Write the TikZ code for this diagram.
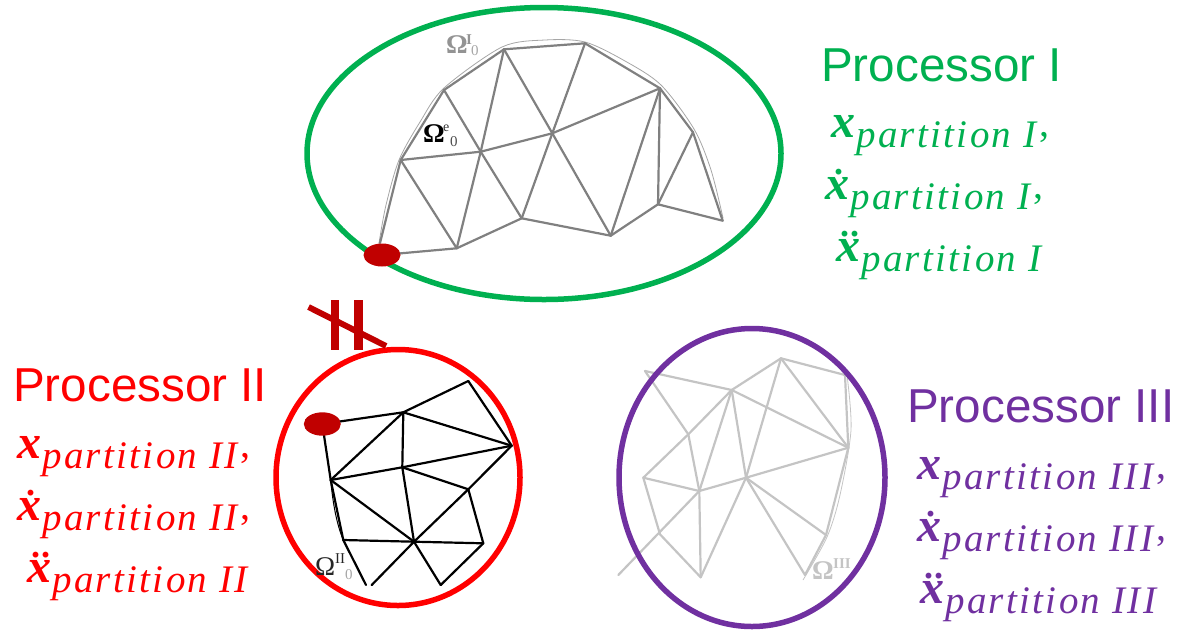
\documentclass[tikz,border=0pt]{standalone}
\usepackage{fontspec}
\setmainfont{Liberation Sans}
\newfontfamily\subf[LetterSpace=6]{Liberation Serif}
\newfontfamily\xf{Liberation Serif}
\definecolor{cgreen}{HTML}{00B050}
\definecolor{cred}{HTML}{FF0000}
\definecolor{cpurple}{HTML}{7030A0}
\definecolor{cdark}{HTML}{C00000}
\definecolor{cmeshI}{HTML}{808080}
\definecolor{cmeshIII}{HTML}{C4C4C4}
\newcommand{\bx}{{\xf\fontsize{48}{48}\selectfont\bfseries\itshape x}}
\newcommand{\bxd}{\leavevmode\rlap{\kern9pt\raisebox{25pt}{\xf\fontsize{36}{36}\selectfont\bfseries .}}\bx}
\newcommand{\bxdd}{\leavevmode\rlap{\kern4pt\raisebox{25pt}{\xf\fontsize{36}{36}\selectfont\bfseries .\kern1pt.}}\bx}
\newcommand{\subt}[1]{\kern1pt\raisebox{-10pt}{\subf\fontsize{39}{39}\selectfont\itshape partition #1}}
\newcommand{\cma}{\kern3pt\raisebox{1pt}{\xf\fontsize{40}{40}\selectfont ,}}
\tikzset{
  ell/.style={line width=5.5pt},
  proc/.style={inner sep=0pt,anchor=base west,font=\fontsize{47.6}{47.6}\selectfont},
  eqn/.style={inner sep=0pt,anchor=base west},
  meshline/.style={line width=2.2pt,line cap=round,line join=round},
  hash/.style={cdark,line width=8.5pt},
  omegabig/.style={inner sep=0pt,anchor=base west,font=\xf\fontsize{27}{27}\selectfont\bfseries},
  omegathin/.style={inner sep=0pt,anchor=base west,font=\xf\fontsize{27}{27}\selectfont},
  omegasup/.style={inner sep=0pt,anchor=base west,font=\xf\fontsize{15}{15}\selectfont\bfseries},
  omegasub/.style={inner sep=0pt,anchor=base west,font=\xf\fontsize{15}{15}\selectfont},
}
\begin{document}
\begin{tikzpicture}[x=1pt,y=-1pt]
\useasboundingbox (0,0) rectangle (1177,630);
% ---- mesh I
\coordinate (A) at (382,255);
\coordinate (At) at (380,243);
\coordinate (B) at (400.7,160);
\coordinate (C) at (444,90);
\coordinate (D) at (504,49.3);
\coordinate (E) at (585,43.3);
\coordinate (F) at (660,88.3);
\coordinate (G) at (693,132.3);
\coordinate (H) at (722.7,220.7);
\coordinate (I) at (658,204.3);
\coordinate (J) at (610.7,235.7);
\coordinate (K) at (521.7,218.3);
\coordinate (L) at (456.7,248.3);
\coordinate (M) at (480.7,151.7);
\coordinate (N) at (552.3,133.3);
\draw[cmeshI!70,line width=.8pt] plot[smooth] coordinates {(379,243) (386,205) (399,160) (420,122) (444,88) (502,47) (545,40) (585,42) (625,61) (661,85) (694,129) (711,170) (723,218)};
\foreach \a/\b in {At/B,B/C,C/D,D/E,E/F,F/G,G/H,H/I,I/J,J/K,K/L,L/A,B/M,M/N,N/F,C/M,D/M,D/N,E/N,B/L,M/L,M/K,N/K,N/J,F/J,F/I,G/I}
  \draw[meshline,cmeshI] (\a) -- (\b);
% ---- mesh II
\coordinate (p) at (322.3,424);
\coordinate (a) at (403.3,412.3);
\coordinate (b) at (468.3,381);
\coordinate (c) at (511.7,445.7);
\coordinate (d) at (402.3,467.3);
\coordinate (e) at (330.7,480);
\coordinate (f) at (468.3,489.3);
\coordinate (g) at (483.3,543.3);
\coordinate (h) at (414,541.7);
\coordinate (i) at (343.3,540);
\coordinate (j) at (366,585);
\coordinate (k) at (371.7,585);
\coordinate (l) at (440.7,585);
\foreach \a/\b in {p/a,a/b,b/c,c/a,a/d,d/c,c/f,f/d,a/e,e/d,p/e,e/i,e/h,d/h,f/h,f/g,g/h,h/i,i/j,h/k,h/l,g/l}
  \draw[meshline,black] (\a) -- (\b);
\draw[black,line width=1pt] (e) .. controls (333,505) and (337,525) .. (i);
% ---- mesh III
\coordinate (p3) at (645,371);
\coordinate (q3) at (731.7,390);
\coordinate (r3) at (781,358.3);
\coordinate (s3) at (845,375);
\coordinate (t3) at (848.3,447.7);
\coordinate (u3) at (746,477.7);
\coordinate (v3) at (699.3,491);
\coordinate (w3) at (688.3,434.3);
\coordinate (x3) at (643.3,477.7);
\coordinate (y3) at (660,534.3);
\coordinate (z3) at (618.3,575);
\coordinate (a3) at (700.7,577.3);
\coordinate (b3) at (805,575);
\coordinate (c3) at (826,535);
\draw[cmeshIII,line width=.8pt] plot[smooth] coordinates {(847,375) (851,430) (840,495) (827,537) (803,580)};
\foreach \a/\b in {p3/q3,q3/r3,r3/s3,s3/t3,t3/q3,t3/r3,r3/u3,q3/u3,q3/v3,q3/w3,p3/w3,w3/x3,w3/v3,x3/v3,v3/u3,u3/t3,x3/y3,y3/a3,a3/v3,a3/u3,v3/z3,u3/b3,u3/c3,b3/c3,c3/t3}
  \draw[meshline,cmeshIII] (\a) -- (\b);
% ---- processor ellipses
\draw[ell,cgreen] (544,153.5) ellipse [x radius=237,y radius=146];
\draw[ell,cred] (398,477.5) ellipse [x radius=122,y radius=128];
\draw[ell,cpurple] (752,477.5) ellipse [x radius=133,y radius=149];
% ---- shared node
\fill[cdark] (A) ellipse [x radius=18.5,y radius=11.5];
\fill[cdark] (p) ellipse [x radius=18.5,y radius=11.7];
% ---- hash
\coordinate (h1t) at (335.2,300);
\coordinate (h1b) at (335.2,350);
\coordinate (h2t) at (358.3,300);
\coordinate (h2b) at (358.3,350);
\coordinate (h3a) at (308.5,307);
\coordinate (h3b) at (386,346);
\draw[hash] (h1t) -- (h1b);
\draw[hash] (h2t) -- (h2b);
\draw[cdark,line width=6pt] (h3a) -- (h3b);
% ---- omega labels
\node[omegabig,text=cmeshI!85] (o1) at (446,53) {Ω};
\node[omegasup,text=cmeshI!85] (o1s) at (466,44) {I};
\node[omegasub,text=cmeshI!70] (o1b) at (471,55) {0};
\node[omegabig,text=black] (o2) at (423,142) {Ω};
\node[omegasup,text=black!80,font=\xf\fontsize{14}{14}\selectfont] (o2s) at (443,131) {e};
\node[omegasub,text=black!70] (o2b) at (450,146) {0};
\node[omegathin,text=black!85] (o3) at (315,575) {Ω};
\node[omegasup,text=black!85,font=\xf\fontsize{15}{15}\selectfont] (o3s) at (335,563) {II};
\node[omegasub,text=black!35] (o3b) at (345,579) {0};
\node[omegabig,text=cmeshIII] (o4) at (812,579) {Ω};
\node[omegasup,text=cmeshIII] (o4s) at (833,568) {III};
% ---- labels I
\node[proc,text=cgreen] (pI) at (821,81) {Processor I};
\node[eqn,text=cgreen] (xI) at (831,137) {\bx\subt{I}\cma};
\node[eqn,text=cgreen] (vI) at (825,199) {\bxd\subt{I}\cma};
\node[eqn,text=cgreen] (aI) at (836,261) {\bxdd\subt{I}};
% ---- labels II
\node[proc,text=cred] (pII) at (13,401) {Processor II};
\node[eqn,text=cred] (xII) at (17,458) {\bx\subt{II}\cma};
\node[eqn,text=cred] (vII) at (17,520) {\bxd\subt{II}\cma};
\node[eqn,text=cred] (aII) at (27,582) {\bxdd\subt{II}};
% ---- labels III
\node[proc,text=cpurple] (pIII) at (907,422) {Processor III};
\node[eqn,text=cpurple] (xIII) at (917,479) {\bx\subt{III}\cma};
\node[eqn,text=cpurple] (vIII) at (917,541) {\bxd\subt{III}\cma};
\node[eqn,text=cpurple] (aIII) at (920,603) {\bxdd\subt{III}};
\end{tikzpicture}
\end{document}
